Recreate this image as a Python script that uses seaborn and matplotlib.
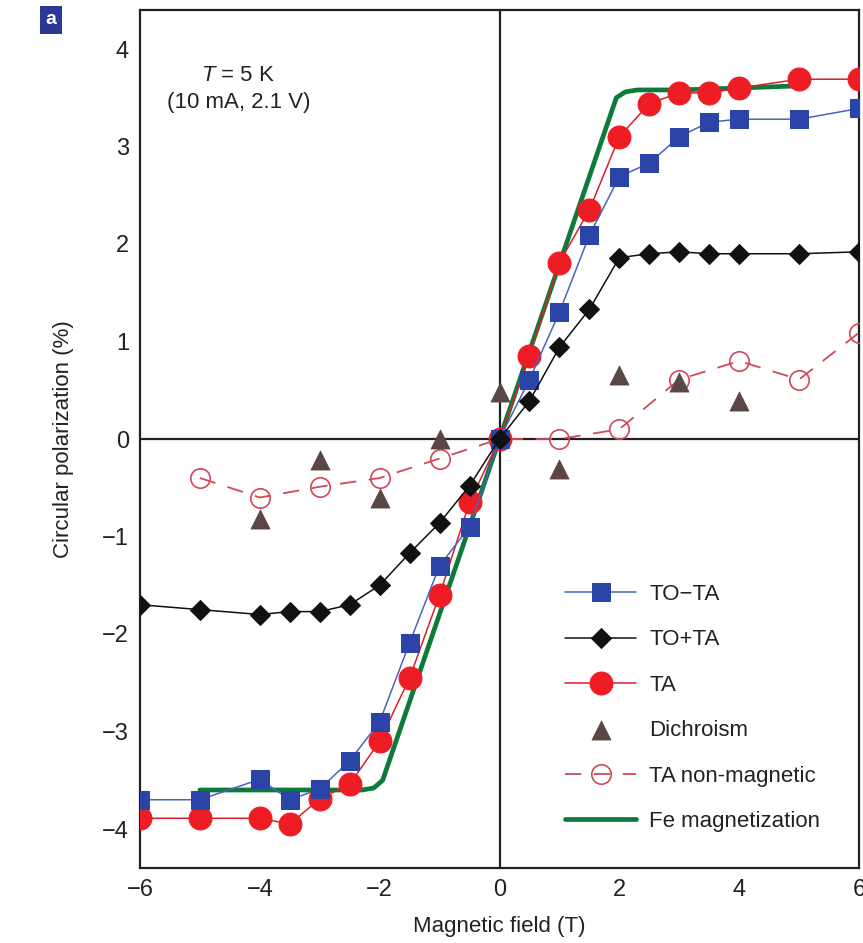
import matplotlib
matplotlib.use("Agg")
import matplotlib.pyplot as plt
import seaborn as sns
import numpy as np
import pandas as pd

# ---- data -------------------------------------------------------------
field_main = [-6, -5, -4, -3.5, -3, -2.5, -2, -1.5, -1, -0.5, 0,
              0.5, 1, 1.5, 2, 2.5, 3, 3.5, 4, 5, 6]
to_minus_ta = [-3.70, -3.70, -3.49, -3.70, -3.59, -3.30, -2.90, -2.09, -1.30, -0.90, 0.0,
               0.61, 1.30, 2.09, 2.69, 2.83, 3.10, 3.25, 3.28, 3.28, 3.39]
to_plus_ta = [-1.70, -1.75, -1.80, -1.77, -1.77, -1.70, -1.50, -1.17, -0.86, -0.48, 0.0,
              0.39, 0.94, 1.33, 1.86, 1.90, 1.92, 1.90, 1.90, 1.90, 1.92]
ta = [-3.89, -3.89, -3.89, -3.95, -3.69, -3.54, -3.10, -2.45, -1.60, -0.65, 0.0,
      0.85, 1.81, 2.35, 3.10, 3.44, 3.55, 3.55, 3.60, 3.69, 3.69]

field_dichroism = [-4, -3, -2, -1, 0, 1, 2, 3, 4]
dichroism = [-0.82, -0.22, -0.60, 0.0, 0.48, -0.31, 0.66, 0.58, 0.39]

field_nonmag = [-5, -4, -3, -2, -1, 0, 1, 2, 3, 4, 5, 6]
ta_nonmag = [-0.40, -0.60, -0.49, -0.40, -0.20, 0.0, 0.0, 0.10, 0.61, 0.80, 0.61, 1.09]

field_fe = [-5.0, -4.0, -3.0, -2.3, -2.1, -1.95, 0.0, 1.95, 2.1, 2.3, 3.0, 4.0, 4.9]
fe_magnetization = [-3.60, -3.60, -3.60, -3.60, -3.58, -3.50, 0.0, 3.50, 3.56, 3.58, 3.58, 3.60, 3.62]

x_ticks = [-6, -4, -2, 0, 2, 4, 6]
y_ticks = [-4, -3, -2, -1, 0, 1, 2, 3, 4]

# ---- style ------------------------------------------------------------
sns.set_style("white")
FONT = ["Liberation Sans", "DejaVu Sans"]
plt.rcParams["font.family"] = FONT
plt.rcParams["mathtext.fontset"] = "custom"
plt.rcParams["mathtext.it"] = "Liberation Sans:italic"
plt.rcParams["mathtext.rm"] = "Liberation Sans"

fig = plt.figure(figsize=(8.63, 9.43), dpi=100)
ax = fig.add_axes([140 / 863, 1 - 868 / 943, (859 - 140) / 863, (868 - 10) / 943])

BLUE = "#2a44a8"
BLUE_LINE = "#4a64b8"
RED = "#ee1c24"
RED_LINE = "#d8202a"
GREEN = "#0e7a3a"
BROWN = "#5a4644"
PINK = "#d24858"
INK = "#222222"

ax.axhline(0, color=INK, lw=1.6, zorder=1)
ax.axvline(0, color=INK, lw=1.6, zorder=1)

sns.lineplot(x=field_fe, y=fe_magnetization, ax=ax, color=GREEN, lw=3.4,
             sort=False, label="Fe magnetization", zorder=3)
sns.lineplot(x=field_main, y=to_minus_ta, ax=ax, color=BLUE_LINE, lw=1.1,
             marker="s", markersize=13, markerfacecolor=BLUE, markeredgecolor=BLUE,
             sort=False, label="TO\u2212TA", zorder=5)
sns.lineplot(x=field_main, y=to_plus_ta, ax=ax, color="#111111", lw=1.1,
             marker="D", markersize=10.5, markerfacecolor="#111111", markeredgecolor="#111111",
             sort=False, label="TO+TA", zorder=5)
sns.lineplot(x=field_main, y=ta, ax=ax, color=RED_LINE, lw=1.1,
             marker="o", markersize=16.5, markerfacecolor=RED, markeredgecolor=RED,
             sort=False, label="TA", zorder=4)
sns.scatterplot(x=field_dichroism, y=dichroism, ax=ax, marker="^", s=190,
                color=BROWN, edgecolor=BROWN, linewidth=0.5, label="Dichroism", zorder=6)
sns.lineplot(x=field_nonmag, y=ta_nonmag, ax=ax, color=PINK, lw=1.3,
             dashes=False, linestyle=(0, (9, 7)),
             marker="o", markersize=14, markerfacecolor="none", markeredgecolor=PINK,
             markeredgewidth=1.2, sort=False, label="TA non-magnetic", zorder=4)

ax.set_xlim(-6, 6)
ax.set_ylim(-4.4, 4.4)
ax.set_xticks(x_ticks)
ax.set_xticklabels([str(v).replace("-", "\u2212") for v in x_ticks])
ax.set_yticks(y_ticks)
ax.set_yticklabels([str(v).replace("-", "\u2212") for v in y_ticks])
ax.set_yticks(np.arange(-4.0, 4.01, 0.5), minor=True)
ax.tick_params(axis="both", which="major", direction="in", length=15, width=1.4,
               labelsize=17, color=INK, labelcolor=INK, pad=8)
ax.tick_params(axis="y", which="minor", direction="in", length=8, width=1.4, color=INK)
for s in ax.spines.values():
    s.set_color(INK)
    s.set_linewidth(1.6)

ax.set_xlabel("Magnetic field (T)", fontsize=16, color=INK, labelpad=11)
ax.set_ylabel("Circular polarization (%)", fontsize=16, color=INK, labelpad=20)

ax.text(0.137, 0.924, "$T$ = 5 K", transform=ax.transAxes, ha="center", va="center",
        fontsize=16, color=INK)
ax.text(0.137, 0.892, "(10 mA, 2.1 V)", transform=ax.transAxes, ha="center", va="center",
        fontsize=16, color=INK)

fig.text(51 / 863, 1 - 20 / 943, "a", ha="center", va="center", fontsize=14,
         fontweight="bold", color="white",
         bbox=dict(boxstyle="square,pad=0.3", facecolor="#2b3898", edgecolor="none"))

# legend in the same order as the figure key
handles, labels = ax.get_legend_handles_labels()
order = ["TO\u2212TA", "TO+TA", "TA", "Dichroism", "TA non-magnetic", "Fe magnetization"]
hmap = dict(zip(labels, handles))
leg = ax.legend([hmap[k] for k in order], order, loc="upper left",
                bbox_to_anchor=((565 - 140) / 719, (868 - 584) / 858),
                frameon=False, fontsize=16, handlelength=3.2, handletextpad=0.6,
                labelspacing=1.1, borderpad=0, borderaxespad=0)
for t in leg.get_texts():
    t.set_color(INK)

fig.savefig("out.png", dpi=100)
